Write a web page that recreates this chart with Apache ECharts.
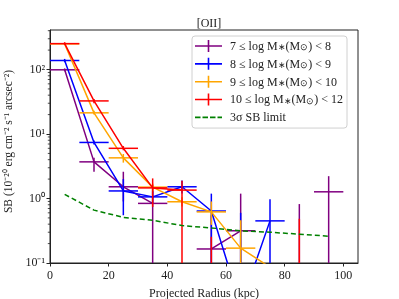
<!DOCTYPE html>
<html><head><meta charset="utf-8">
<script src="https://cdn.jsdelivr.net/npm/echarts@6/dist/echarts.min.js"></script>
<style>html,body{margin:0;padding:0;background:#fff}#c{width:399px;height:299px}</style>
</head><body><div id="c"></div>
<script>
// ---- data ----
const radius = [5, 15, 25, 35, 45, 55, 65, 75, 85, 95];
const xErr = 5;
// 7 <= log M < 8 (null = not positive / not shown)
const sb7    = [99, 3.7, 1.52, 0.84, null, 0.165, 0.316, null, null, 1.27];
const sb7Lo  = [94, 2.6, 0.9, null, null, null, null, null, null, null];
const sb7Hi  = [104, 4.3, 2.6, 1.6, null, 0.55, 1.19, null, 0.82, 2.22];
// 8 <= log M < 9
const sb8    = [138, 7.4, 1.31, 1.06, 1.52, 0.64, 0.022, 0.45, null, null];
const sb8Lo  = [130, 6.9, 0.55, 0.85, 1.2, null, null, null, null, null];
const sb8Hi  = [146, 7.9, 2.0, 1.3, 1.9, 1.19, 0.6, 0.97, null, null];
// 9 <= log M < 10
const sb9    = [250, 21.3, 4.27, 1.5, 0.89, 0.62, 0.17, 0.086, null, null];
const sb9Lo  = [240, 20, 3.6, 1.3, 0.75, 0.39, 0.09, null, null, null];
const sb9Hi  = [260, 23, 4.9, 1.7, 1.05, 0.9, 0.46, null, null, null];
// 10 <= log M < 12
const sb10   = [252, 32.6, 6.0, 1.46, 1.35, null, null, null, null, null];
const sb10Lo = [240, 30, 5.6, 0.74, null, null, null, null, null, null];
const sb10Hi = [265, 35, 6.5, 2.05, 1.88, 0.255, null, null, 0.485, null];
// 3 sigma SB limit
const sbLimit = [1.16, 0.66, 0.51, 0.46, 0.38, 0.35, 0.316, 0.30, 0.28, 0.26];
// axis ticks
const xTicks = [0, 20, 40, 60, 80, 100];
const yMinorTicks = [0.2,0.3,0.4,0.5,0.6,0.7,0.8,0.9,2,3,4,5,6,7,8,9,20,30,40,50,60,70,80,90,200,300,400];

const names = [
  '7 ≤ log M*(M⊙) < 8',
  '8 ≤ log M*(M⊙) < 9',
  '9 ≤ log M*(M⊙) < 10',
  '10 ≤ log M*(M⊙) < 12',
  '3σ SB limit'
];
const colors = ['#800080', '#0000ff', '#ffa500', '#ff0000', '#008000'];
const FONT = 'Liberation Serif';

const nz = v => (v === null || v === undefined) ? '-' : v;
function lineData(vals) { return radius.map((x, i) => [x, nz(vals[i])]); }
function errData(vals, lo, hi) {
  return radius.map((x, i) => [x, nz(hi[i]), nz(lo[i]), nz(vals[i]), xErr]);
}

function renderErr(color) {
  return function (params, api) {
    const cs = params.coordSys;
    const top = cs.y, bottom = cs.y + cs.height;
    const x = api.value(0), hi = api.value(1), lo = api.value(2), c = api.value(3), xe = api.value(4);
    const children = [];
    const style = { stroke: color, lineWidth: 1.5 };
    if (isFinite(hi) && hi > 0) {
      const pHi = api.coord([x, hi]);
      let yLo = (isFinite(lo) && lo > 0) ? api.coord([x, lo])[1] : bottom;
      yLo = Math.min(yLo, bottom);
      const yHi = Math.max(pHi[1], top);
      if (yHi < bottom) {
        children.push({ type: 'line', shape: { x1: pHi[0], y1: yHi, x2: pHi[0], y2: yLo }, style });
      }
    }
    if (isFinite(c) && c > 0) {
      const p1 = api.coord([x - xe, c]), p2 = api.coord([x + xe, c]);
      if (p1[1] <= bottom && p1[1] >= top) {
        children.push({ type: 'line', shape: { x1: p1[0], y1: p1[1], x2: p2[0], y2: p2[1] }, style });
      }
    }
    return { type: 'group', children };
  };
}

const groups = [
  [sb7, sb7Lo, sb7Hi], [sb8, sb8Lo, sb8Hi], [sb9, sb9Lo, sb9Hi], [sb10, sb10Lo, sb10Hi]
];
const series = [];
groups.forEach((g, k) => {
  series.push({
    name: names[k], type: 'line', data: lineData(g[0]), symbol: 'none',
    lineStyle: { color: colors[k], width: 1.5 }, itemStyle: { color: colors[k] },
    clip: true, connectNulls: false, z: 2 + k
  });
  series.push({
    name: names[k], type: 'custom', data: errData(g[0], g[1], g[2]),
    encode: { x: 0, y: 1 }, renderItem: renderErr(colors[k]),
    itemStyle: { color: colors[k] }, z: 2 + k
  });
});
series.push({
  name: names[4], type: 'line', data: lineData(sbLimit), symbol: 'none',
  lineStyle: { color: colors[4], width: 1.5, type: [5, 3] }, itemStyle: { color: colors[4] }, z: 10
});
// minor log ticks on y axis
series.push({
  type: 'custom', silent: true, data: yMinorTicks.map(v => [0, v]), encode: { x: 0, y: 1 },
  renderItem: function (params, api) {
    const p = api.coord([0, api.value(1)]);
    return { type: 'line', shape: { x1: p[0] - 2.2, y1: p[1], x2: p[0], y2: p[1] }, style: { stroke: '#222', lineWidth: 0.8 } };
  }, z: 20
});

const plusIcon = 'path://M0,5.2h27v1.6h-27z M12.7,0h1.6v12h-1.6z';
const dashIcon = 'path://M0,0h0.01v0.01h-0.01z M0,11.99h0.01v0.01h-0.01z M0,5.2h5.5v1.6h-5.5z M7.5,5.2h5.5v1.6h-5.5z M15,5.2h5.5v1.6h-5.5z M22.5,5.2h4.5v1.6h-4.5z';

const sup = {'-':'⁻','0':'⁰','1':'¹','2':'²','3':'³','4':'⁴','5':'⁵','6':'⁶','7':'⁷','8':'⁸','9':'⁹'};
function powLabel(v) {
  const e = Math.log10(v);
  const r = Math.round(e);
  if (Math.abs(e - r) > 1e-6) return '';
  return '10' + String(r).split('').map(ch => sup[ch]).join('');
}
// legend label as rich text with subscripts
function legendFmt(n) {
  const m = n.match(/^(.*log M)\*\(M⊙\)(.*)$/);
  if (!m) return '{a|' + n + '}';
  return '{a|' + m[1] + '}{s|∗}{a|(M}{s|⊙}{a|)' + m[2] + '}';
}

const chart = echarts.init(document.getElementById('c'), null, { renderer: 'canvas' });
chart.setOption({
  animation: false,
  backgroundColor: '#fff',
  title: {
    text: '[OII]', left: 204, top: 13, textAlign: 'center',
    textStyle: { fontFamily: FONT, fontSize: 12, fontWeight: 'normal', color: '#222' }
  },
  grid: { left: 50, right: 41, top: 30, bottom: 36, show: true, borderColor: '#222', borderWidth: 1,
    backgroundColor: 'transparent', containLabel: false, outerBoundsMode: 'none' },
  legend: {
    orient: 'vertical', left: 192, top: 36,
    padding: [4, 4, 4, 3], itemGap: 5.2, itemWidth: 27, itemHeight: 12,
    backgroundColor: 'rgba(255,255,255,0.85)', borderColor: '#d0d0d0', borderWidth: 1, borderRadius: 3,
    formatter: legendFmt,
    textStyle: {
      fontFamily: FONT, fontSize: 12, color: '#222', padding: [0, 0, 0, 3],
      rich: {
        a: { fontFamily: FONT, fontSize: 12, color: '#222', lineHeight: 13.3, verticalAlign: 'bottom' },
        s: { fontFamily: FONT, fontSize: 8.5, color: '#222', lineHeight: 13.3, verticalAlign: 'bottom' }
      }
    },
    data: names.map((n, i) => ({ name: n, icon: i === 4 ? dashIcon : plusIcon, itemStyle: { color: colors[i] } }))
  },
  xAxis: {
    type: 'value', min: 0, max: 105, interval: 20,
    name: 'Projected Radius (kpc)', nameLocation: 'middle', nameGap: 25,
    nameTextStyle: { fontFamily: FONT, fontSize: 12, color: '#222' },
    axisLine: { lineStyle: { color: '#222', width: 1 } },
    axisTick: { length: 3.5, lineStyle: { color: '#222' } },
    axisLabel: { fontFamily: FONT, fontSize: 12, color: '#222', margin: 7, showMaxLabel: false,
      formatter: v => (xTicks.indexOf(v) >= 0 ? String(v) : '') },
    splitLine: { show: false }
  },
  yAxis: {
    type: 'log', logBase: 10, min: 0.1, max: 410,
    name: 'SB (10⁻²⁰ erg cm⁻² s⁻¹ arcsec⁻²)', nameLocation: 'middle', nameGap: 34,
    nameTextStyle: { fontFamily: FONT, fontSize: 11.5, color: '#222', padding: [0, 0, 0, 10] },
    axisLine: { lineStyle: { color: '#222', width: 1 } },
    axisTick: { length: 3.5, lineStyle: { color: '#222' } },
    axisLabel: { fontFamily: FONT, fontSize: 12, color: '#222', margin: 5, showMaxLabel: false, formatter: powLabel },
    splitLine: { show: false }
  },
  series
});
</script></body></html>
